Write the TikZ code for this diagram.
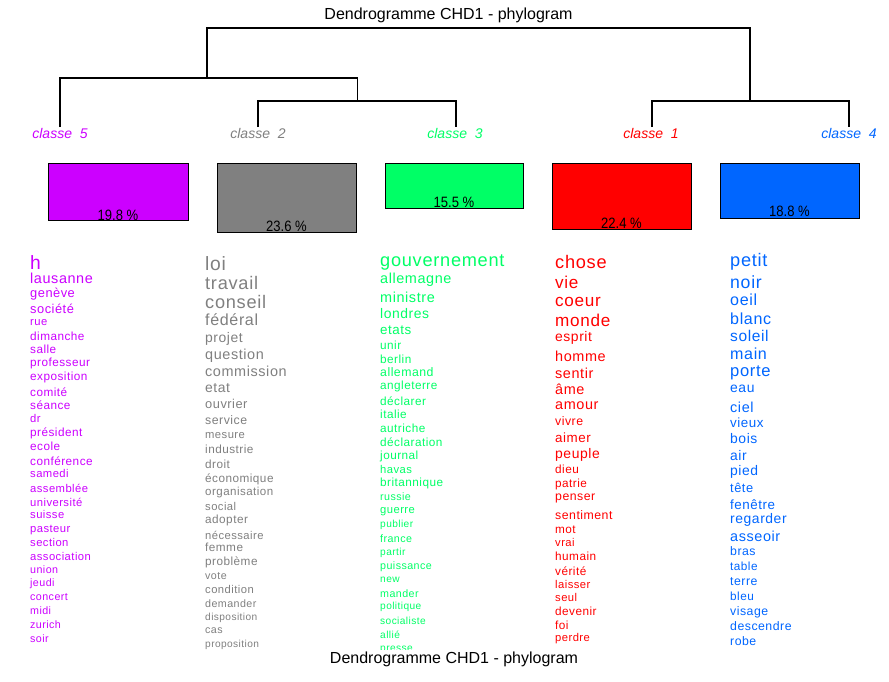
\documentclass[tikz,border=0pt]{standalone}
\usepackage{fontspec}
\setmainfont{Liberation Sans}
\newfontfamily\wfont[LetterSpace=4]{Liberation Sans}
\newfontfamily\pfont[FakeStretch=0.87]{Liberation Sans}
\definecolor{cmag}{HTML}{CC00FF}
\definecolor{cgray}{HTML}{808080}
\definecolor{cgreen}{HTML}{00FF66}
\definecolor{cred}{HTML}{FF0000}
\definecolor{cblue}{HTML}{0066FF}
\newcommand{\wordcol}[3]{%
  \foreach \yc/\s/\t [count=\i] in {#3}
  {\pgfmathsetmacro{\ss}{1.07*\s}%
   \node[word, text=#1, font=\wfont\fontsize{\ss}{\ss}\selectfont, name=w#2\i] at (#2,{\yc+0.3*\ss}) {\t};}}
\begin{document}
\begin{tikzpicture}[x=1pt,y=-1pt,
  dendro/.style={line width=1.1pt, black},
  classlabel/.style={font=\fontsize{14}{14}\selectfont\itshape, anchor=base, inner sep=0pt},
  pbox/.style={draw=black, line width=0.9pt},
  pct/.style={font=\pfont\fontsize{15}{15}\selectfont, anchor=base, inner sep=0pt},
  word/.style={anchor=base west, inner sep=0pt},
  titletext/.style={font=\fontsize{16}{16}\selectfont, anchor=base, inner sep=0pt}]
\useasboundingbox (0,0) rectangle (889,681);
\fill[white] (0,0) rectangle (889,681);

% title
\node[titletext] (title) at (448.5,19.5) {Dendrogramme CHD1 - phylogram};

% class labels
\node[classlabel, text=cmag]  (l5) at (60,138)  {classe~~5};
\node[classlabel, text=cgray] (l2) at (258,138) {classe~~2};
\node[classlabel, text=cgreen](l3) at (455,138) {classe~~3};
\node[classlabel, text=cred]  (l1) at (651,138) {classe~~1};
\node[classlabel, text=cblue] (l4) at (849,138) {classe~~4};

% dendrogram
\coordinate (t5) at (60,127);
\coordinate (t2) at (258,127);
\coordinate (t3) at (456,127);
\coordinate (t1) at (652,127);
\coordinate (t4) at (849,127);
\coordinate (n23) at (357.5,101);
\coordinate (n523) at (207,78);
\coordinate (n14) at (750,101);
\coordinate (root) at (478,28);
\draw[dendro] (t2) |- (n23) -| (t3);
\draw[dendro] (t5) |- (n523) -| (n23);
\draw[dendro] (t1) |- (n14) -| (t4);
\draw[dendro] (n523) |- (root) -| (n14);

% boxes
\draw[pbox, fill=cmag]  (48,163)  rectangle (188,220.5);
\draw[pbox, fill=cgray] (217,163) rectangle (356,232);
\draw[pbox, fill=cgreen](385,163) rectangle (523,208);
\draw[pbox, fill=cred]  (552,163) rectangle (691,229);
\draw[pbox, fill=cblue] (720,163) rectangle (859,218.5);
\node[pct] (p5) at (118,220)   {19.8 \%};
\node[pct] (p2) at (286.5,231.5) {23.6 \%};
\node[pct] (p3) at (454,207.5) {15.5 \%};
\node[pct] (p1) at (621.5,228.5) {22.4 \%};
\node[pct] (p4) at (789.5,216.5) {18.8 \%};

\begin{scope}
\clip (0,240) rectangle (889,649);
% classe 5
\wordcol{cmag}{30}{264/18/h, 279/13.5/lausanne, 294/12/genève, 310/12/société, 322/10.5/rue, 337/11/dimanche, 350/11/salle, 363/11/professeur, 377/11/exposition, 393/11/comité, 406/11/séance, 419/10.5/dr, 433/11/président, 447/11/ecole, 462/11/conférence, 474/10.5/samedi, 489/10.5/assemblée, 503/10.5/université, 515/10.5/suisse, 529/10.5/pasteur, 543/10.5/section, 557/10.5/association, 570/10/union, 583/10/jeudi, 597/10/concert, 611/10/midi, 625/10/zurich, 639/10/soir}
% classe 2
\wordcol{cgray}{205}{265/18/loi, 284/17/travail, 303/17/conseil, 321/15/fédéral, 338/13/projet, 355/13.5/question, 372/13.5/commission, 388/13/etat, 405/12/ouvrier, 421/11.5/service, 435/10.5/mesure, 450/11/industrie, 465/11/droit, 479/11/économique, 492/10.8/organisation, 507/10.5/social, 520/11/adopter, 536/10.5/nécessaire, 548/11/femme, 562/11/problème, 576/10/vote, 590/10.5/condition, 604/10/demander, 617/9.5/disposition, 630/10/cas, 644/9.5/proposition}
% classe 3
\wordcol{cgreen}{380}{261/17/gouvernement, 279/13.5/allemagne, 298/13.5/ministre, 314/13/londres, 330/12.5/etats, 346/11/unir, 360/11/berlin, 373/11.5/allemand, 386/11/angleterre, 402/11/déclarer, 415/11/italie, 429/11/autriche, 443/11/déclaration, 456/11/journal, 470/10.5/havas, 483/11/britannique, 497/10/russie, 510/10.5/guerre, 524/9.5/publier, 539/10/france, 552/9.5/partir, 566/10/puissance, 579/9.5/new, 594/10/mander, 606/9.5/politique, 621/9.5/socialiste, 635/9.5/allié, 648/9.5/presse}
% classe 1
\wordcol{cred}{555}{263/17/chose, 283/16/vie, 301/16/coeur, 321/16/monde, 337/13/esprit, 357/13.5/homme, 374/13.5/sentir, 390/13.5/âme, 405/13.5/amour, 422/11.5/vivre, 438/12.5/aimer, 454/13/peuple, 470/11/dieu, 484/11/patrie, 497/11.5/penser, 516/11.5/sentiment, 530/11/mot, 543/10.5/vrai, 557/11/humain, 572/11/vérité, 585/10.5/laisser, 598/10.5/seul, 612/11/devenir, 626/11/foi, 638/10.5/perdre}
% classe 4
\wordcol{cblue}{730}{261/17/petit, 283/16.5/noir, 301/15/oeil, 320/15/blanc, 337/14.5/soleil, 355/15/main, 372/15.5/porte, 388/13/eau, 408/13.5/ciel, 423/12.5/vieux, 439/13/bois, 456/13/air, 471/13/pied, 489/12/tête, 505/12.5/fenêtre, 519/13/regarder, 537/13.5/asseoir, 552/11.5/bras, 567/11/table, 582/11.5/terre, 597/11/bleu, 612/11.5/visage, 627/11.5/descendre, 642/11.5/robe}
\end{scope}

% bottom title
\node[titletext] (subtitle) at (454,663) {Dendrogramme CHD1 - phylogram};
\end{tikzpicture}
\end{document}
